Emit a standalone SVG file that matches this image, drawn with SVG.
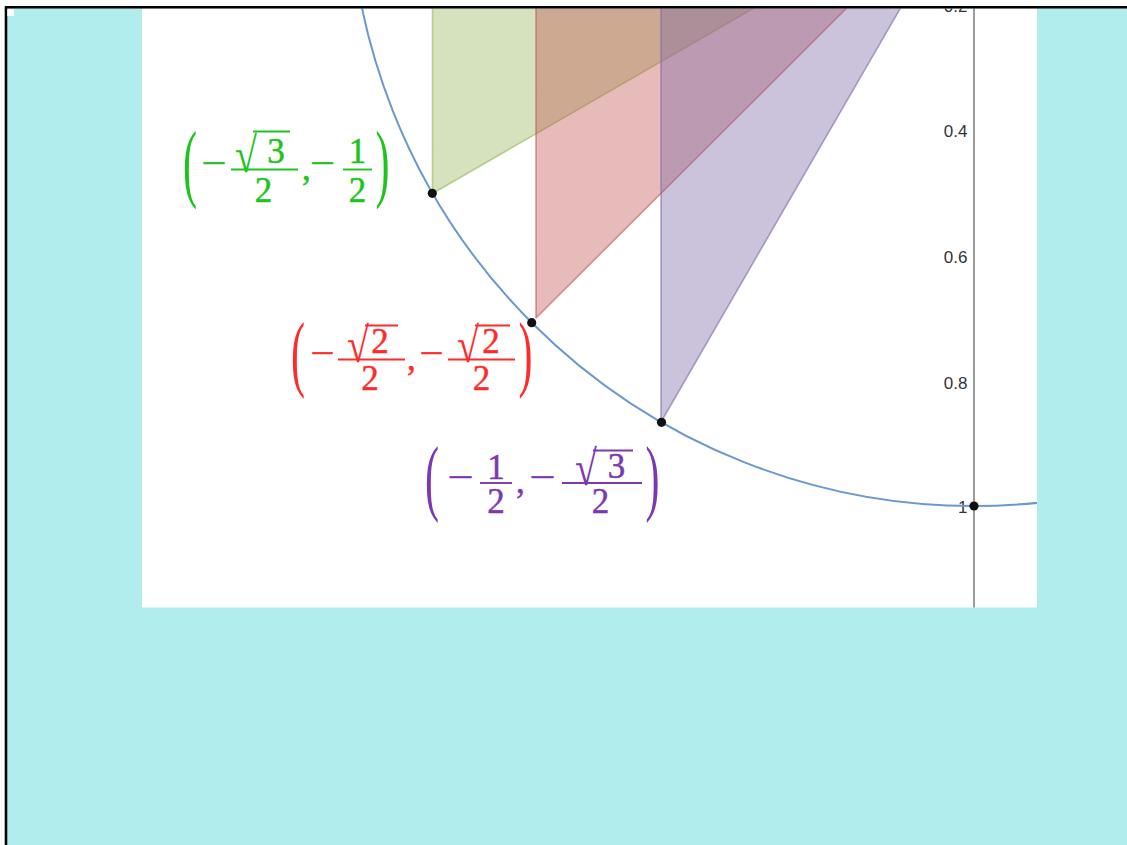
<svg xmlns="http://www.w3.org/2000/svg" width="1127" height="845" viewBox="0 0 1127 845">
<style>
.m{font-family:"Liberation Serif","DejaVu Serif",serif;font-size:35px;stroke-width:0.5}
.p{font-family:"Liberation Serif","DejaVu Serif",serif;font-size:60px}
.r{font-family:"Liberation Serif","DejaVu Serif",serif;font-size:38px}
.ax{font-family:"Liberation Sans",Arial,sans-serif;font-size:17px;fill:#333;text-anchor:end}
.g{fill:#1ec41e;stroke:#1ec41e}
.rd{fill:#ff2b2b;stroke:#ff2b2b}
.pu{fill:#7b38b0;stroke:#7b38b0}
.p,.r{stroke-width:0}
.bar{stroke-width:1.9}
.c{text-anchor:middle}
.pt{fill:#111}
</style>
<defs>
<clipPath id="plot"><rect x="142" y="8.5" width="895" height="599"/></clipPath>
</defs>
<rect width="1127" height="845" fill="#fff"/>
<rect x="6" y="7" width="1121" height="838" fill="#b2eded"/>
<g id="plot-area" clip-path="url(#plot)">
<rect x="142" y="8" width="895" height="600" fill="#fff"/>
<g id="triangles" stroke-width="1.6" stroke-linejoin="round">
<polygon id="tri-green" points="432.5,193.5 432.5,-119 974,-119" fill="rgb(150,182,90)" fill-opacity="0.4" stroke="rgb(150,182,90)" stroke-opacity="0.6"/>
<polygon id="tri-red" points="536,318 536,-119 974,-119" fill="rgb(195,85,80)" fill-opacity="0.4" stroke="rgb(195,85,80)" stroke-opacity="0.6"/>
<polygon id="tri-purple" points="661,422 661,-119 974,-119" fill="rgb(125,105,167)" fill-opacity="0.4" stroke="rgb(125,105,167)" stroke-opacity="0.6"/>
</g>
<g id="axis">
<line x1="974" y1="0" x2="974" y2="608" stroke="#666" stroke-width="1.3"/>
<text class="ax" x="967.5" y="11.7">0.2</text>
<text class="ax" x="967.5" y="137">0.4</text>
<text class="ax" x="967.5" y="263">0.6</text>
<text class="ax" x="967.5" y="389">0.8</text>
<text class="ax" x="967.5" y="512.5">1</text>
</g>
<circle id="unit-circle" cx="974" cy="-119" r="625" fill="none" stroke="#6b98cf" stroke-width="2"/>
<g id="points">
<circle class="pt" cx="432.3" cy="193.3" r="4.6"/>
<circle class="pt" cx="531.7" cy="322.7" r="4.6"/>
<circle class="pt" cx="661.5" cy="422.3" r="4.6"/>
<circle class="pt" cx="974" cy="506" r="4.6"/>
</g>
</g>
<g id="label-green" class="g">
<text class="p" transform="translate(183,191) scale(0.7,1.45)">(</text>
<text class="m c" x="214" y="175" textLength="25" lengthAdjust="spacingAndGlyphs">−</text>
<line class="bar" x1="231" y1="169.5" x2="298" y2="169.5"/>
<text class="r" transform="translate(235,171.5) scale(1.05,1.3)">√</text>
<line class="bar" x1="253" y1="131.5" x2="290" y2="131.5"/>
<text class="m c" x="276" y="163">3</text>
<text class="m c" x="263.5" y="202">2</text>
<text class="m" x="302" y="179.5">,</text>
<text class="m c" x="322.5" y="175" textLength="25" lengthAdjust="spacingAndGlyphs">−</text>
<line class="bar" x1="343" y1="169.5" x2="372" y2="169.5"/>
<text class="m c" x="357.5" y="162.5">1</text>
<text class="m c" x="357.5" y="202">2</text>
<text class="p" transform="translate(375.5,191) scale(0.7,1.45)">)</text>
</g>
<g id="label-red" class="rd">
<text class="p" transform="translate(291,381) scale(0.7,1.4)">(</text>
<text class="m c" x="322.5" y="365" textLength="24" lengthAdjust="spacingAndGlyphs">−</text>
<line class="bar" x1="338" y1="359.5" x2="405" y2="359.5"/>
<text class="r" transform="translate(347,361.5) scale(1.05,1.3)">√</text>
<line class="bar" x1="365" y1="325.5" x2="398" y2="325.5"/>
<text class="m c" x="380" y="353">2</text>
<text class="m c" x="370" y="390">2</text>
<text class="m" x="407" y="369.5">,</text>
<text class="m c" x="431.5" y="365" textLength="24" lengthAdjust="spacingAndGlyphs">−</text>
<line class="bar" x1="448" y1="359.5" x2="515" y2="359.5"/>
<text class="r" transform="translate(457,361.5) scale(1.05,1.3)">√</text>
<line class="bar" x1="475" y1="325.5" x2="510" y2="325.5"/>
<text class="m c" x="491" y="353">2</text>
<text class="m c" x="481.5" y="390">2</text>
<text class="p" transform="translate(518.5,381) scale(0.7,1.4)">)</text>
</g>
<g id="label-purple" class="pu">
<text class="p" transform="translate(425,505) scale(0.7,1.4)">(</text>
<text class="m c" x="460.5" y="489" textLength="26" lengthAdjust="spacingAndGlyphs">−</text>
<line class="bar" x1="480" y1="483" x2="512" y2="483"/>
<text class="m c" x="496" y="478.5">1</text>
<text class="m c" x="496" y="512.5">2</text>
<text class="m" x="516" y="493">,</text>
<text class="m c" x="542.5" y="489" textLength="26" lengthAdjust="spacingAndGlyphs">−</text>
<line class="bar" x1="562" y1="483" x2="642" y2="483"/>
<text class="r" transform="translate(575,485) scale(1.05,1.3)">√</text>
<line class="bar" x1="593" y1="450.5" x2="633" y2="450.5"/>
<text class="m c" x="616.5" y="477.5">3</text>
<text class="m c" x="600.5" y="512.5">2</text>
<text class="p" transform="translate(645.5,505) scale(0.7,1.4)">)</text>
</g>
<g id="frame">
<path d="M6,845 V7.3 H1127" fill="none" stroke="#000" stroke-width="2.6"/>
<rect x="7.3" y="9.3" width="6.7" height="6.7" fill="#fff"/>
</g>
</svg>
